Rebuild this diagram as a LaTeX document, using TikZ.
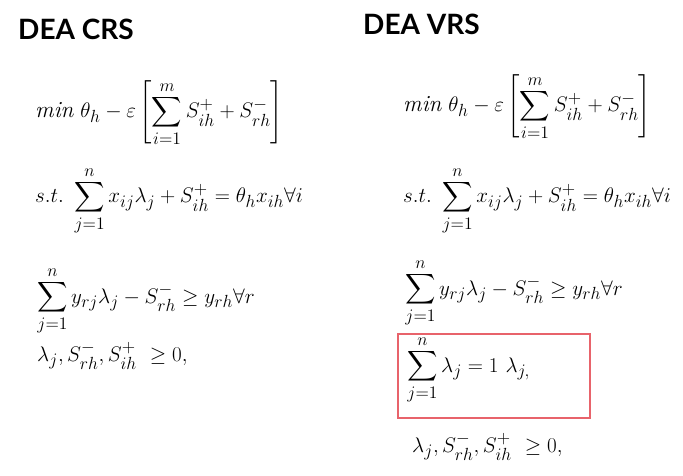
\documentclass[tikz,border=0pt]{standalone}
\usepackage{amsmath}
\usepackage{fontspec}
\newfontfamily\titlefont{Lato}[BoldFont={Lato Bold}]
\definecolor{boxred}{HTML}{E8636B}
\begin{document}
\begin{tikzpicture}[x=1pt,y=-1pt,
  title/.style={anchor=base west,inner sep=0pt,font=\titlefont\bfseries\fontsize{28}{34}\selectfont},
  eq/.style={anchor=base west,inner sep=0pt,font=\fontsize{19}{23}\selectfont,scale=1.22,transform shape},
  hl/.style={draw=boxred,line width=1.6pt}]
\useasboundingbox[fill=white] (0,0) rectangle (683,476);
\node[title] (t1) at (18,40) {DEA CRS};
\node[title] (t2) at (363,35) {DEA VRS};
% left column
\node[eq] (l1) at (35,118) {$\displaystyle \mathit{min}\ \theta_h-\varepsilon\left[\sum_{i=1}^{m}S^+_{ih}+S^-_{rh}\right]$};
\node[eq] (l2) at (35,203) {$\displaystyle s.t.\ \sum_{j=1}^{n}x_{ij}\lambda_j+S^+_{ih}=\theta_h x_{ih}\forall i$};
\node[eq] (l3) at (37,303) {$\displaystyle \sum_{j=1}^{n}y_{rj}\lambda_j-S^-_{rh}\geq y_{rh}\forall r$};
\node[eq] (l4) at (37,361) {$\displaystyle \lambda_j,S^-_{rh},S^+_{ih}\ \geq 0,$};
% right column
\node[eq] (r1) at (403,112) {$\displaystyle \mathit{min}\ \theta_h-\varepsilon\left[\sum_{i=1}^{m}S^+_{ih}+S^-_{rh}\right]$};
\node[eq] (r2) at (403,203) {$\displaystyle s.t.\ \sum_{j=1}^{n}x_{ij}\lambda_j+S^+_{ih}=\theta_h x_{ih}\forall i$};
\node[eq] (r3) at (405,295) {$\displaystyle \sum_{j=1}^{n}y_{rj}\lambda_j-S^-_{rh}\geq y_{rh}\forall r$};
\node[eq] (r4) at (407,372) {$\displaystyle \sum_{j=1}^{n}\lambda_j=1\ \lambda_{j,}$};
\node[eq] (r5) at (412,452) {$\displaystyle \lambda_j,S^-_{rh},S^+_{ih}\ \geq 0,$};
\draw[hl] (398,334) rectangle (590,418);
\end{tikzpicture}
\end{document}
